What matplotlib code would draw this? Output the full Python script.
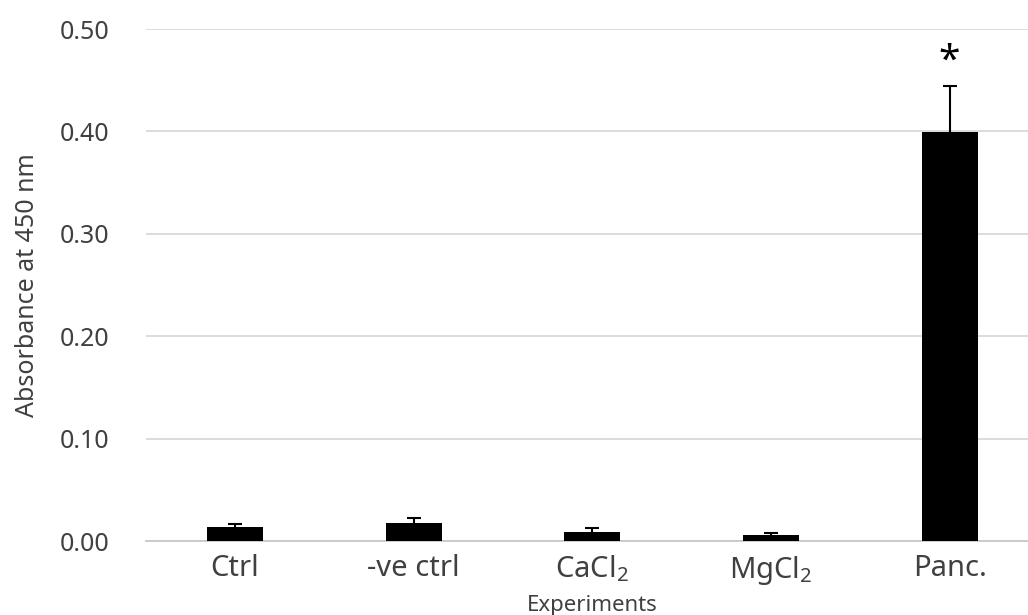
import matplotlib
matplotlib.use("Agg")
import matplotlib.pyplot as plt
import numpy as np

# values
labels = ['Ctrl', '-ve ctrl', 'CaCl$_\\mathregular{2}$', 'MgCl$_\\mathregular{2}$', 'Panc.']
means = [0.014, 0.018, 0.009, 0.006, 0.399]
errors = [0.003, 0.004, 0.004, 0.002, 0.045]
yticks = [0.0, 0.1, 0.2, 0.3, 0.4, 0.5]

plt.rcParams['font.family'] = ['Noto Sans', 'DejaVu Sans']
plt.rcParams['mathtext.fontset'] = 'custom'
plt.rcParams['mathtext.rm'] = 'Noto Sans'

fig = plt.figure(figsize=(10.28, 6.15), dpi=100)
ax = fig.add_axes([0.1416, 0.1203, 0.869, 0.8325])

x = list(range(len(labels)))
ax.bar(x, means, width=0.313, color='black', zorder=3)
eb = ax.errorbar(x, means, yerr=[[0] * len(errors), errors], fmt='none',
                 ecolor='black', elinewidth=1.5, capsize=4.7, capthick=1.5, zorder=4)
# plus-only error bars: hide the caps sitting on the bar tops
for cap in eb[1]:
    if np.allclose(cap.get_ydata(), means):
        cap.set_visible(False)

# significance marker over Panc.
ax.annotate('*', xy=(4, means[4] + errors[4]), xytext=(0, 4),
            textcoords='offset points', ha='center', va='bottom',
            fontsize=28, color='black')

ax.set_xlim(-0.5, 4.5)
ax.set_ylim(0, 0.5)
ax.set_yticks(yticks)
ax.set_yticklabels(['%.2f' % v for v in yticks])
ax.set_xticks(x)
ax.set_xticklabels(labels)

ax.yaxis.grid(True, color='#d9d9d9', linewidth=1.3)
ax.set_axisbelow(True)
for s in ['top', 'right', 'left']:
    ax.spines[s].set_visible(False)
ax.spines['bottom'].set_color('#c8c8c8')
ax.spines['bottom'].set_linewidth(1.3)

ax.tick_params(axis='y', length=0, pad=26, labelsize=18, labelcolor='#404040')
ax.tick_params(axis='x', length=0, pad=9, labelsize=21, labelcolor='#404040')

ax.set_ylabel('Absorbance at 450 nm', fontsize=18, color='#404040')
ax.yaxis.set_label_coords(-0.118, 0.5)
ax.set_xlabel('Experiments', fontsize=16, color='#404040')
ax.xaxis.set_label_coords(0.5, -0.105)

fig.savefig('out.png', dpi=100, facecolor='white')
